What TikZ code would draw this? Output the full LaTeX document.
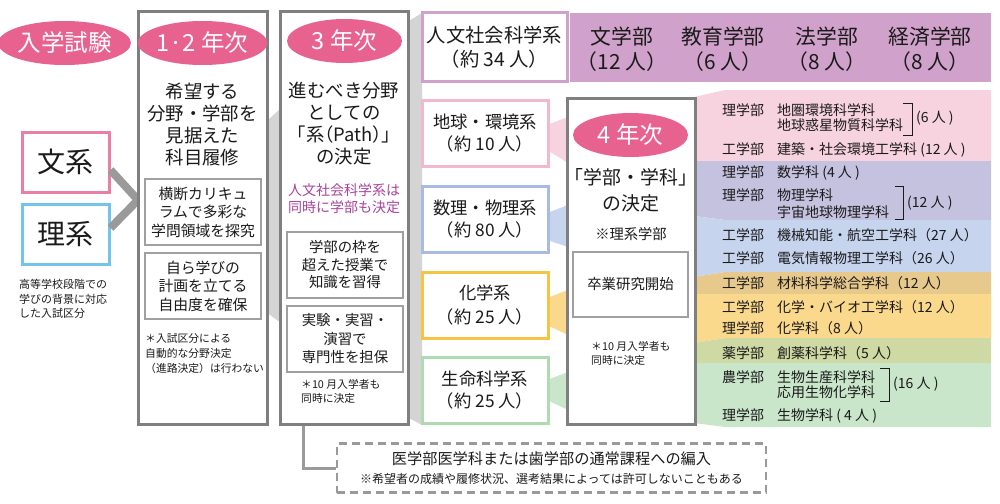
\documentclass[tikz,border=0pt]{standalone}
\usepackage{fontspec}
\setmainfont{Noto Sans CJK JP}
\usetikzlibrary{shapes.geometric,positioning}

\definecolor{yearpink}{HTML}{E8628F}
\definecolor{colgray}{HTML}{7F7F7F}
\definecolor{boxgray}{HTML}{A0A0A0}
\definecolor{linkgray}{HTML}{D4D4D4}
\definecolor{chevgray}{HTML}{9A9A9A}
\definecolor{bunkeipink}{HTML}{E97FA4}
\definecolor{rikeiblue}{HTML}{74C3EC}
\definecolor{jinbunpurple}{HTML}{D0A1CA}
\definecolor{pathpurple}{HTML}{A8449A}
\definecolor{chikyuline}{HTML}{F2B9CD}
\definecolor{chikyufill}{HTML}{F7D3DF}
\definecolor{suriline}{HTML}{A9BBE2}
\definecolor{surifill}{HTML}{C7D4EE}
\definecolor{surilav}{HTML}{C5C2E0}
\definecolor{kagakuline}{HTML}{F6C445}
\definecolor{kagakufill}{HTML}{FAD98D}
\definecolor{kagakutan}{HTML}{E8C98C}
\definecolor{seimeiline}{HTML}{AEDBB0}
\definecolor{seimeifill}{HTML}{C9E6CB}
\definecolor{seimeiolive}{HTML}{CED9A3}
\definecolor{inkblack}{HTML}{1A1A1A}

\newcommand\fsz[2]{\fontsize{#1}{#2}\selectfont}
\newcommand\facname[1]{\makebox[55pt][l]{#1}}
\newcommand\lpar{\makebox[0.5em][r]{（}}
\newcommand\rpar{\makebox[0.5em][l]{）}}
\newcommand\lkak{\makebox[0.5em][r]{「}}
\newcommand\rkak{\makebox[0.5em][l]{」}}

\tikzset{
  yearoval/.style={ellipse, fill=yearpink, text=white, minimum width=115pt, minimum height=44pt, inner sep=0pt, font=\fsz{23.5}{28}},
  colbox/.style={draw=colgray, line width=3pt, fill=white, inner sep=0pt},
  subbox/.style={draw=boxgray, line width=1.5pt, fill=white, align=center, inner sep=0pt, minimum width=116pt, text=inkblack},
  keibox/.style={line width=3pt, fill=white, align=center, inner sep=0pt, minimum width=126pt, minimum height=66pt, font=\fsz{17.3}{22}, text=inkblack},
  headtext/.style={align=center, inner sep=0pt, font=\fsz{18.4}{22}, text=inkblack},
  smallnote/.style={align=left, inner sep=0pt, anchor=west, font=\fsz{10.8}{14.5}, text=inkblack},
  factext/.style={anchor=west, inner sep=0pt, font=\fsz{14}{16}, text=inkblack},
  chevron/.style={draw=chevgray, line width=8pt, line join=miter},
  linkline/.style={draw=chevgray, line width=3pt},
  bracket/.style={draw=inkblack, line width=0.9pt}
}

\begin{document}
\begin{tikzpicture}[x=1pt, y=-1pt]
\useasboundingbox (0,0) rectangle (1000,503);

% grey links between the columns
\fill[linkgray] (266,122) -- (281,108) -- (281,323) -- (266,312) -- cycle;
\fill[linkgray] (407,22) -- (422,13) -- (422,425) -- (407,417) -- cycle;

% flows from each kei into year 4
\fill[chikyufill] (547,125) -- (568,117) -- (568,163) -- (547,150) -- cycle;
\fill[surifill] (547,213) -- (568,205) -- (568,247) -- (547,240) -- cycle;
\fill[kagakufill] (547,298) -- (568,290) -- (568,335) -- (547,325) -- cycle;
\fill[seimeifill] (547,380) -- (568,372) -- (568,410) -- (547,400) -- cycle;

% faculty bands on the right
\fill[chikyufill] (694,97) -- (725,90) -- (991,90) -- (991,161) -- (694,161) -- cycle;
\fill[surilav] (694,161) -- (991,161) -- (991,220) -- (725,220) -- (694,216) -- cycle;
\fill[surifill] (694,216) -- (725,220) -- (991,220) -- (991,272) -- (725,272) -- (694,277) -- cycle;
\fill[kagakutan] (694,277) -- (725,272) -- (991,272) -- (991,294) -- (694,294) -- cycle;
\fill[kagakufill] (694,294) -- (991,294) -- (991,338) -- (725,338) -- (694,343) -- cycle;
\fill[seimeiolive] (694,343) -- (725,338) -- (991,338) -- (991,363) -- (694,363) -- cycle;
\fill[seimeifill] (694,363) -- (991,363) -- (991,427) -- (725,427) -- (694,423) -- cycle;

% entrance exam
\node[yearoval] (exam) at (64.5,43) {入学試験};
\node[keibox, draw=bunkeipink, minimum width=87pt, minimum height=60pt, font=\fsz{28}{30}] (bunkei) at (65.5,162) {文系};
\node[keibox, draw=rikeiblue, minimum width=87pt, minimum height=60pt, font=\fsz{28}{30}] (rikei) at (65.5,234) {理系};
\node[smallnote, font=\fsz{11}{14.5}] (exambg) at (19,299) {高等学校段階での\\学びの背景に対応\\した入試区分};
\coordinate (entry) at (138,200);
\draw[chevron] ([yshift=-8pt]bunkei.east) -- (entry) -- ([yshift=6pt]rikei.east);

% year 1-2
\node[colbox, minimum width=129pt, minimum height=412pt] (col12) at (202.5,218) {};
\node[yearoval] (y12) at (202.5,43) {1·2 年次};
\node[headtext] (aim) at (202.5,124.5) {希望する\\分野・学部を\\見据えた\\科目履修};
\node[subbox, minimum height=66pt, font=\fsz{14.8}{18.5}] (cross) at (203,212) {横断カリキュ\\ラムで多彩な\\学問領域を探究};
\node[subbox, minimum height=66pt, font=\fsz{14.8}{18.5}] (plan) at (203,286) {自ら学びの\\計画を立てる\\自由度を確保};
\node[smallnote, font=\fsz{10.8}{15}] (autonote) at (145,353) {＊入試区分による\\自動的な分野決定\\（進路決定）は行わない};

% year 3
\node[colbox, minimum width=128pt, minimum height=412pt] (col3) at (344,218) {};
\node[yearoval] (y3) at (344.5,41) {3 年次};
\node[headtext] (decide3) at (344,124) {進むべき分野\\としての\\\lkak 系\lpar Path\rpar\rkak\\の決定};
\node[headtext, font=\fsz{14}{17}, text=pathpurple] (jinbunnote) at (344,198.5) {人文社会科学系は\\同時に学部も決定};
\node[subbox, minimum height=66pt, font=\fsz{14.4}{17.5}] (beyond) at (345,265) {学部の枠を\\超えた授業で\\知識を習得};
\node[subbox, minimum height=66pt, font=\fsz{14.4}{18.5}] (practice) at (345,339) {実験・実習・\\演習で\\専門性を担保};
\node[smallnote, font=\fsz{10.8}{13.5}] (oct3) at (301,391.5) {＊10 月入学者も\\同時に決定};

% kei (paths)
\node[fill=jinbunpurple, minimum width=421pt, minimum height=69pt, inner sep=0pt] (facband) at (780.5,47.5) {};
\node[keibox, draw=jinbunpurple, minimum width=145pt, minimum height=68pt, font=\fsz{19.3}{24}] (jinbun) at (494.5,47) {人文社会科学系\\\lpar 約 34 人\rpar};
\node[headtext, font=\fsz{20.8}{25}] (bungaku) at (622,49.5) {文学部\\\lpar 12 人\rpar};
\node[headtext, font=\fsz{20.8}{25}] (kyoiku) at (723,49.5) {教育学部\\\lpar 6 人\rpar};
\node[headtext, font=\fsz{20.8}{25}] (hogaku) at (827,49.5) {法学部\\\lpar 8 人\rpar};
\node[headtext, font=\fsz{20.8}{25}] (keizai) at (930,49.5) {経済学部\\\lpar 8 人\rpar};
\node[keibox, draw=chikyuline] (chikyu) at (485,133.5) {地球・環境系\\\lpar 約 10 人\rpar};
\node[keibox, draw=suriline] (suri) at (485,219) {数理・物理系\\\lpar 約 80 人\rpar};
\node[keibox, draw=kagakuline, font=\fsz{17.3}{24}] (kagaku) at (485,305) {化学系\\\lpar 約 25 人\rpar};
\node[keibox, draw=seimeiline] (seimei) at (485,390.5) {生命科学系\\\lpar 約 25 人\rpar};

% year 4
\node[colbox, minimum width=128pt, minimum height=326pt] (col4) at (631,261) {};
\node[yearoval] (y4) at (630.5,135) {4 年次};
\node[headtext, font=\fsz{18.9}{26}] (decide4) at (631,190) {「学部・学科」\\の決定};
\node[headtext, font=\fsz{14.3}{17}] (rikeionly) at (631,234) {※理系学部};
\node[subbox, minimum width=115pt, minimum height=65pt, font=\fsz{14.4}{17}] (thesis) at (630.5,284.5) {卒業研究開始};
\node[smallnote, font=\fsz{10.8}{13.5}] (oct4) at (591,353.5) {＊10 月入学者も\\同時に決定};

% faculties and departments
\node[factext] (r1) at (722,110) {\facname{理学部}地圏環境科学科};
\node[factext] (r2) at (722,125) {\facname{}地球惑星物質科学科};
\node[factext] (r3) at (722,150) {\facname{工学部}建築・社会環境工学科 (12 人 )};
\node[factext] (r4) at (722,173) {\facname{理学部}数学科 (4 人 )};
\node[factext] (r5) at (722,195) {\facname{理学部}物理学科};
\node[factext] (r6) at (722,212) {\facname{}宇宙地球物理学科};
\node[factext] (r7) at (722,235) {\facname{工学部}機械知能・航空工学科（27 人）};
\node[factext] (r8) at (722,258) {\facname{工学部}電気情報物理工学科（26 人）};
\node[factext] (r9) at (722,283) {\facname{工学部}材料科学総合学科（12 人）};
\node[factext] (r10) at (722,307) {\facname{工学部}化学・バイオ工学科（12 人）};
\node[factext] (r11) at (722,328) {\facname{理学部}化学科（8 人）};
\node[factext] (r12) at (722,353) {\facname{薬学部}創薬科学科（5 人）};
\node[factext] (r13) at (722,377) {\facname{農学部}生物生産科学科};
\node[factext] (r14) at (722,392) {\facname{}応用生物化学科};
\node[factext] (r15) at (722,416) {\facname{理学部}生物学科 ( 4 人 )};
\draw[bracket] (903,103) -- (912,103) -- (912,135) -- (903,135);
\node[factext] (g1) at (916,118) {(6 人 )};
\draw[bracket] (895,186) -- (903,186) -- (903,219) -- (895,219);
\node[factext] (g2) at (907,203) {(12 人 )};
\draw[bracket] (880,368) -- (889,368) -- (889,401) -- (880,401);
\node[factext] (g3) at (893,384) {(16 人 )};

% transfer to medicine / dentistry
\node[draw=chevgray, line width=2.5pt, dash pattern=on 8pt off 5pt, minimum width=429pt, minimum height=49pt, align=center, inner sep=0pt, text=inkblack] (transfer) at (551.5,468) {\fsz{15.2}{20}医学部医学科または歯学部の通常課程への編入\\[7pt]\fsz{12}{20}※希望者の成績や履修状況、選考結果によっては許可しないこともある};
\draw[linkline] ([xshift=-41pt]col3.south) |- (transfer.west);
\end{tikzpicture}
\end{document}
